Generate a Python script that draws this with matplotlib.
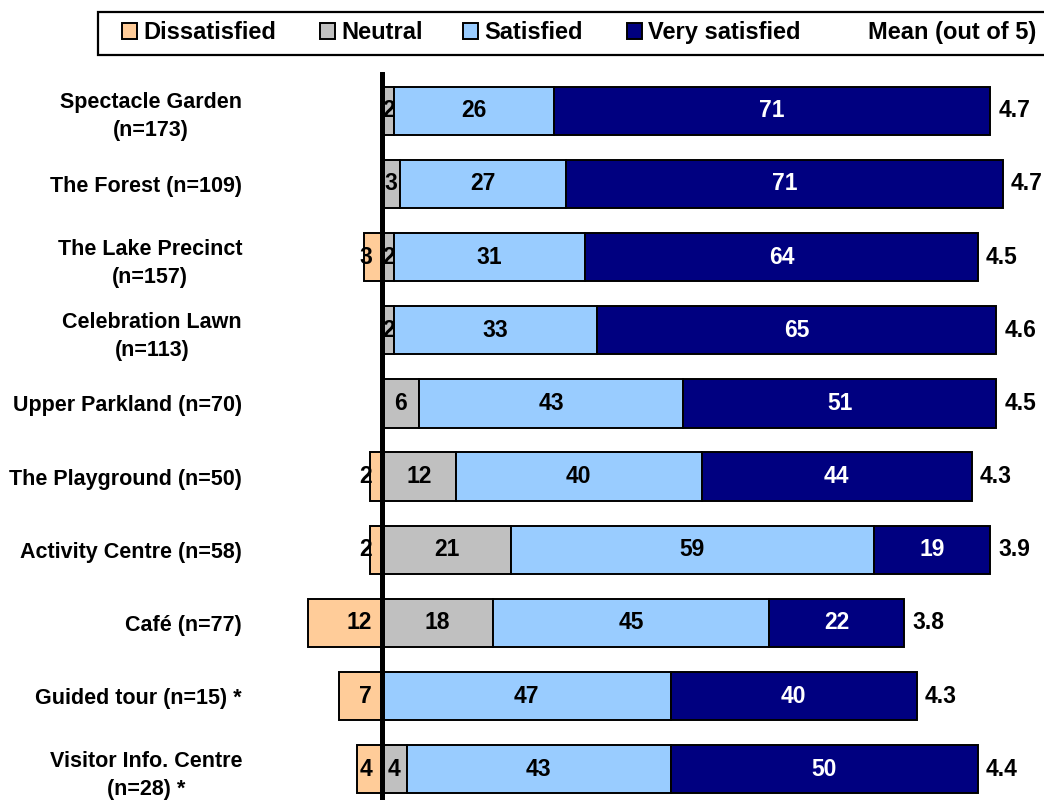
import numpy as np
import matplotlib.pyplot as plt
from matplotlib.patches import Rectangle

plt.rcParams['font.family'] = ['Liberation Sans', 'DejaVu Sans']
plt.rcParams['font.weight'] = 'bold'

categories = ["Spectacle Garden\n(n=173)", "The Forest (n=109)", "The Lake Precinct\n(n=157)",
              "Celebration Lawn\n(n=113)", "Upper Parkland (n=70)", "The Playground (n=50)",
              "Activity Centre (n=58)", "Café (n=77)", "Guided tour (n=15) *",
              "Visitor Info. Centre\n(n=28) *"]
dissatisfied = [0, 0, 3, 0, 0, 2, 2, 12, 7, 4]
neutral = [2, 3, 2, 2, 6, 12, 21, 18, 0, 4]
satisfied = [26, 27, 31, 33, 43, 40, 59, 45, 47, 43]
very_satisfied = [71, 71, 64, 65, 51, 44, 19, 22, 40, 50]
means = [4.7, 4.7, 4.5, 4.6, 4.5, 4.3, 3.9, 3.8, 4.3, 4.4]

series_names = ["Dissatisfied", "Neutral", "Satisfied", "Very satisfied"]
colors = ["#FFCC99", "#C0C0C0", "#99CCFF", "#000080"]

fig = plt.figure(figsize=(10.44, 8), dpi=100)
ax = fig.add_axes([290 / 1044, 0, 754 / 1044, 728 / 800])

y = np.arange(len(categories))
h = 0.66
ekw = dict(edgecolor='black', linewidth=1.4)
vfs = 16.5

# dissatisfied goes to the left of zero
d = np.array(dissatisfied)
ax.barh(y, -d, height=h, color=colors[0], **ekw)
for yi, v in zip(y, d):
    if v > 0:
        ax.text(-1.6, yi, str(v), ha='right', va='center', fontsize=vfs, color='black')

left = np.zeros(len(categories))
for vals, col in zip([neutral, satisfied, very_satisfied], colors[1:]):
    vals = np.array(vals)
    ax.barh(y, vals, left=left, height=h, color=col, **ekw)
    tc = 'white' if col == "#000080" else 'black'
    for yi, l, v in zip(y, left, vals):
        if v > 0:
            ax.text(l + v / 2, yi, str(v), ha='center', va='center', fontsize=vfs, color=tc)
    left = left + vals

for yi, end, m in zip(y, left, means):
    ax.text(end + 1.3, yi, f"{m:.1f}", ha='left', va='center', fontsize=16.5)

ax.axvline(0, color='black', lw=3.6, zorder=5, solid_capstyle='round')

ax.set_xlim(-14.97, 107.73)
ax.set_ylim(9.42, -0.53)
ax.set_yticks(y)
ax.set_yticklabels(categories, fontsize=15.5, fontweight='bold')
for lbl in ax.get_yticklabels():
    lbl.set_multialignment('center')
    lbl.set_linespacing(1.45)
ax.tick_params(axis='y', length=0, pad=34.5)
ax.set_xticks([])
for s in ax.spines.values():
    s.set_visible(False)

# legend box across the top
W, H = 1044, 800
fig.patches.append(Rectangle((98 / W, 1 - 55 / H), 1.0, 43 / H, transform=fig.transFigure,
                             facecolor='white', edgecolor='black', linewidth=1.6))
sw_x = [122, 320, 463, 627]
for x0, name, col in zip(sw_x, series_names, colors):
    fig.patches.append(Rectangle((x0 / W, 1 - 38.5 / H), 15 / W, 15 / H, transform=fig.transFigure,
                                 facecolor=col, edgecolor='black', linewidth=1.4))
    fig.text((x0 + 21) / W, 1 - 32.5 / H, name, ha='left', va='center', fontsize=17)
fig.text(868 / W, 1 - 32.5 / H, "Mean (out of 5)", ha='left', va='center', fontsize=17)

fig.savefig('out.png', dpi=100)
